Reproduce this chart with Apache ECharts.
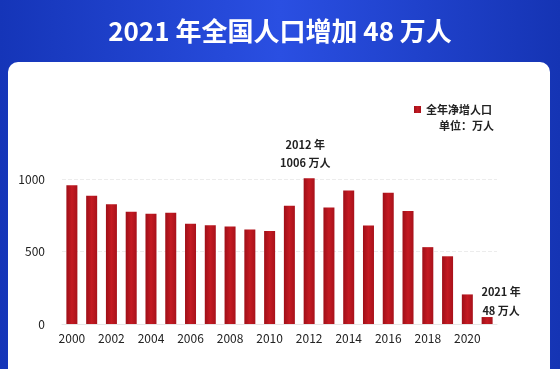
<!DOCTYPE html>
<html><head><meta charset="utf-8">
<script src="https://cdn.jsdelivr.net/npm/echarts@6/dist/echarts.min.js"></script>
<style>html,body{margin:0;padding:0;}#c{width:560px;height:369px;}</style>
</head><body><div id="c"></div>
<script>
const years = ['2000','2001','2002','2003','2004','2005','2006','2007','2008','2009','2010','2011','2012','2013','2014','2015','2016','2017','2018','2019','2020','2021'];
const netIncrease = [957, 884, 826, 774, 761, 768, 692, 681, 673, 651, 641, 816, 1006, 804, 920, 680, 906, 779, 530, 467, 204, 48];
const yTicks = [0, 500, 1000];
const titleText = '2021 年全国人口增加 48 万人';
const seriesName = '全年净增人口';
const unitText = '单位：万人';

const font = '"Noto Sans CJK SC", "Noto Sans", sans-serif';
const chart = echarts.init(document.getElementById('c'));
const data = netIncrease.map((v, i) => {
  const d = { value: v };
  if (years[i] === '2012') {
    d.label = { show: true, position: 'top', distance: 6, offset: [-4, 0], formatter: '2012 年\n1006 万人', lineHeight: 18 };
  }
  if (years[i] === '2021') {
    d.label = { show: true, position: 'top', distance: 6, offset: [14, 9], formatter: '2021 年\n48 万人', lineHeight: 19 };
  }
  return d;
});
chart.setOption({
  backgroundColor: {
    type: 'linear', x: 0, y: 0, x2: 1, y2: 0,
    colorStops: [{offset: 0, color: '#1535b8'}, {offset: 0.5, color: '#2a4fe2'}, {offset: 1, color: '#1534b4'}]
  },
  graphic: [
    { type: 'rect', shape: { x: 8, y: 62, width: 542, height: 330, r: 10 }, style: { fill: '#ffffff' }, z: -10 },
    { type: 'text', left: 'center', top: 18, style: { text: titleText, fill: '#ffffff', font: 'bold 26px ' + font, shadowColor: 'rgba(0,0,40,0.6)', shadowBlur: 4, shadowOffsetX: 1, shadowOffsetY: 2 } },
    { type: 'text', left: 439, top: 120, style: { text: unitText, fill: '#222', font: 'bold 11px ' + font } }
  ],
  legend: {
    data: [seriesName], left: 409, top: 99, icon: 'rect', itemWidth: 7, itemHeight: 7, itemGap: 6,
    textStyle: { color: '#222', fontSize: 11, fontWeight: 'bold', fontFamily: font }
  },
  grid: { left: 62, right: 63, top: 179, bottom: 45 },
  xAxis: {
    type: 'category', data: years,
    axisTick: { show: false },
    axisLine: { lineStyle: { color: '#e6e6e6' } },
    axisLabel: { interval: 1, color: '#222', fontSize: 12, fontFamily: font, margin: 8 }
  },
  yAxis: {
    type: 'value', min: yTicks[0], max: yTicks[yTicks.length - 1], interval: yTicks[1] - yTicks[0],
    axisLabel: { color: '#222', fontSize: 12, fontFamily: font, margin: 17, formatter: v => String(v) },
    splitLine: { lineStyle: { color: '#ececec', type: 'dashed' } },
    axisLine: { show: false }, axisTick: { show: false }
  },
  series: [{
    name: seriesName, type: 'bar', data: data, barWidth: 11, clip: false,
    itemStyle: { color: {
      type: 'linear', x: 0, y: 0, x2: 1, y2: 0,
      colorStops: [{offset: 0, color: '#9e0f18'}, {offset: 0.5, color: '#c41a22'}, {offset: 1, color: '#a8121b'}]
    } },
    label: { color: '#222', fontSize: 11, fontWeight: 'bold', fontFamily: font },
    emphasis: { disabled: true }
  }],
  animation: false
});
</script></body></html>
